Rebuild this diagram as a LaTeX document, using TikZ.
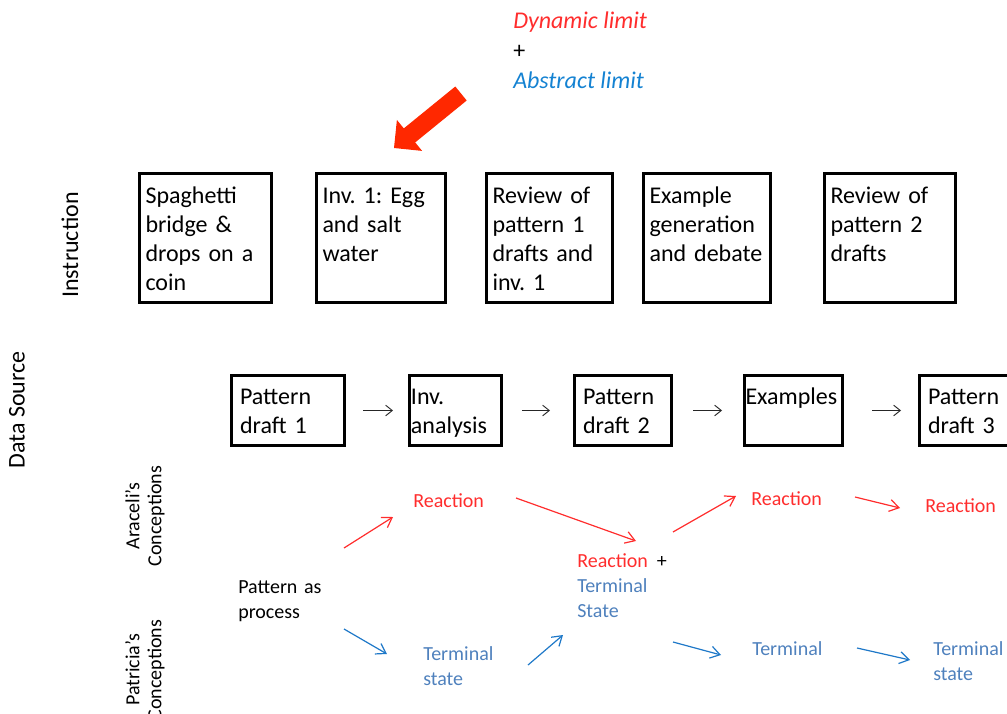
\documentclass[tikz,border=0pt]{standalone}
\usepackage{fontspec}
\setmainfont{Carlito}
\usepackage{xcolor}
\usetikzlibrary{arrows.meta}
\definecolor{limred}{RGB}{255,45,45}
\definecolor{blockred}{RGB}{255,40,0}
\definecolor{termblue}{RGB}{79,129,189}
\definecolor{arrblue}{RGB}{30,120,200}
\definecolor{limblue}{RGB}{20,130,210}

\begin{document}
\frenchspacing
\begin{tikzpicture}[x=0.75pt, y=-0.75pt,
  ibox/.style={draw, line width=2.25pt, anchor=north west, align=left,
    inner xsep=4.5pt, inner ysep=0pt, text height=22.5pt, text depth=74.25pt,
    font=\fontsize{18}{21.75}\selectfont},
  dbox/.style={draw, line width=2.25pt, anchor=north west, align=left,
    inner xsep=6.4pt, inner ysep=0pt, text height=22.1pt, text depth=30.4pt,
    font=\fontsize{18}{21.75}\selectfont},
  concept/.style={anchor=north west, align=left, inner sep=0pt, text width=80pt,
    text height=15pt, font=\fontsize{15}{18.75}\selectfont},
  side/.style={rotate=90, align=center, inner sep=0pt},
  toplabel/.style={anchor=base west, inner sep=0pt, font=\fontsize{18}{22}\selectfont\itshape},
  flow/.style={black!85, line width=0.7pt, -{Straight Barb[length=5pt,width=8pt]}},
  redarr/.style={limred, line width=0.9pt, -{Straight Barb[length=7pt,width=9pt]}},
  bluearr/.style={arrblue, line width=0.9pt, -{Straight Barb[length=7pt,width=9pt]}}
]
\useasboundingbox (0,0) rectangle (1007,714);
\clip (0,0) rectangle (1007,714);

% limits
\node[toplabel, text=limred] (dyn) at (513,28) {Dynamic limit};
\node[toplabel, font=\fontsize{18}{22}\selectfont] (plus) at (513,58) {+};
\node[toplabel, text=limblue] (abs) at (513,88) {Abstract limit};
\fill[blockred] (466.7,100.5) -- (455.3,86.5) -- (403.8,128.4) -- (396.9,119.9)
  -- (394,148) -- (422.1,150.9) -- (415.2,142.4) -- cycle;

% side labels
\node[side, font=\fontsize{18}{21}\selectfont] (instr) at (70,245) {Instruction};
\node[side, font=\fontsize{18}{21}\selectfont] (datasrc) at (17,410) {Data Source};
\node[side, font=\fontsize{15}{16.5}\selectfont] (arac) at (145,516) {Araceli's\\Conceptions};
\node[side, font=\fontsize{15}{16.5}\selectfont] (patr) at (145,670) {Patricia's\\Conceptions};

% instruction row
\node[ibox, text width=90pt] (spag) at (138,172) {Spaghetti\\bridge \&\\drops on a\\coin};
\node[ibox, text width=87.75pt] (egg) at (315,172) {Inv. 1: Egg\\and salt\\water};
\node[ibox, text width=85.5pt] (rev1) at (485,172) {Review of\\pattern 1\\drafts and\\inv. 1};
\node[ibox, text width=86.25pt] (exgen) at (642,172) {Example\\generation\\and debate};
\node[ibox, text width=89.25pt] (rev2) at (823,172) {Review of\\pattern 2\\drafts};

% data row
\node[dbox, text width=72pt] (pd1) at (230,374) {Pattern\\draft 1};
\node[dbox, inner xsep=1.1pt, text width=66.75pt] (inv) at (408,374) {Inv.\\analysis};
\node[dbox, text width=60pt] (pd2) at (573,374) {Pattern\\draft 2};
\node[dbox, inner xsep=0.75pt, text width=72pt] (ex) at (743,374) {Examples};
\node[dbox, text width=60pt] (pd3) at (918,374) {Pattern\\draft 3};

\draw[flow, shorten <=12.75pt, shorten >=11.25pt] (pd1) -- (inv);
\draw[flow, shorten <=14.25pt, shorten >=17.25pt] (inv) -- (pd2);
\draw[flow, shorten <=15pt, shorten >=15.75pt] (pd2) -- (ex);
\draw[flow, shorten <=21pt, shorten >=12.75pt] (ex) -- (pd3);

% conceptions
\node[concept] (proc) at (238,573) {Pattern as\\process};
\node[concept, text=limred] (reac1) at (413,487) {Reaction};
\node[concept] (mix) at (577,547) {\textcolor{limred}{Reaction}\hspace{0.45em}+\\\textcolor{termblue}{Terminal}\\\textcolor{termblue}{State}};
\node[concept, text=termblue] (term1) at (423,640) {Terminal\\state};
\node[concept, text=limred] (reac2) at (751,485) {Reaction};
\node[concept, text=limred] (reac3) at (925,492) {Reaction};
\node[concept, text=termblue] (term2) at (752,635) {Terminal};
\node[concept, text=termblue] (term3) at (933,635) {Terminal\\state};

\coordinate (ra1s) at (344,548); \coordinate (ra1e) at (393,517);
\coordinate (ra2s) at (516,498); \coordinate (ra2e) at (636,541);
\coordinate (ra3s) at (673,532); \coordinate (ra3e) at (736,496);
\coordinate (ra4s) at (855,497); \coordinate (ra4e) at (900,508);
\coordinate (ba1s) at (344,629); \coordinate (ba1e) at (387,654);
\coordinate (ba2s) at (528,665); \coordinate (ba2e) at (563,635);
\coordinate (ba3s) at (673,642); \coordinate (ba3e) at (721,655);
\coordinate (ba4s) at (857,648); \coordinate (ba4e) at (910,660);

\draw[redarr] (ra1s) -- (ra1e);
\draw[redarr] (ra2s) -- (ra2e);
\draw[redarr] (ra3s) -- (ra3e);
\draw[redarr] (ra4s) -- (ra4e);
\draw[bluearr] (ba1s) -- (ba1e);
\draw[bluearr] (ba2s) -- (ba2e);
\draw[bluearr] (ba3s) -- (ba3e);
\draw[bluearr] (ba4s) -- (ba4e);
\end{tikzpicture}
\end{document}
